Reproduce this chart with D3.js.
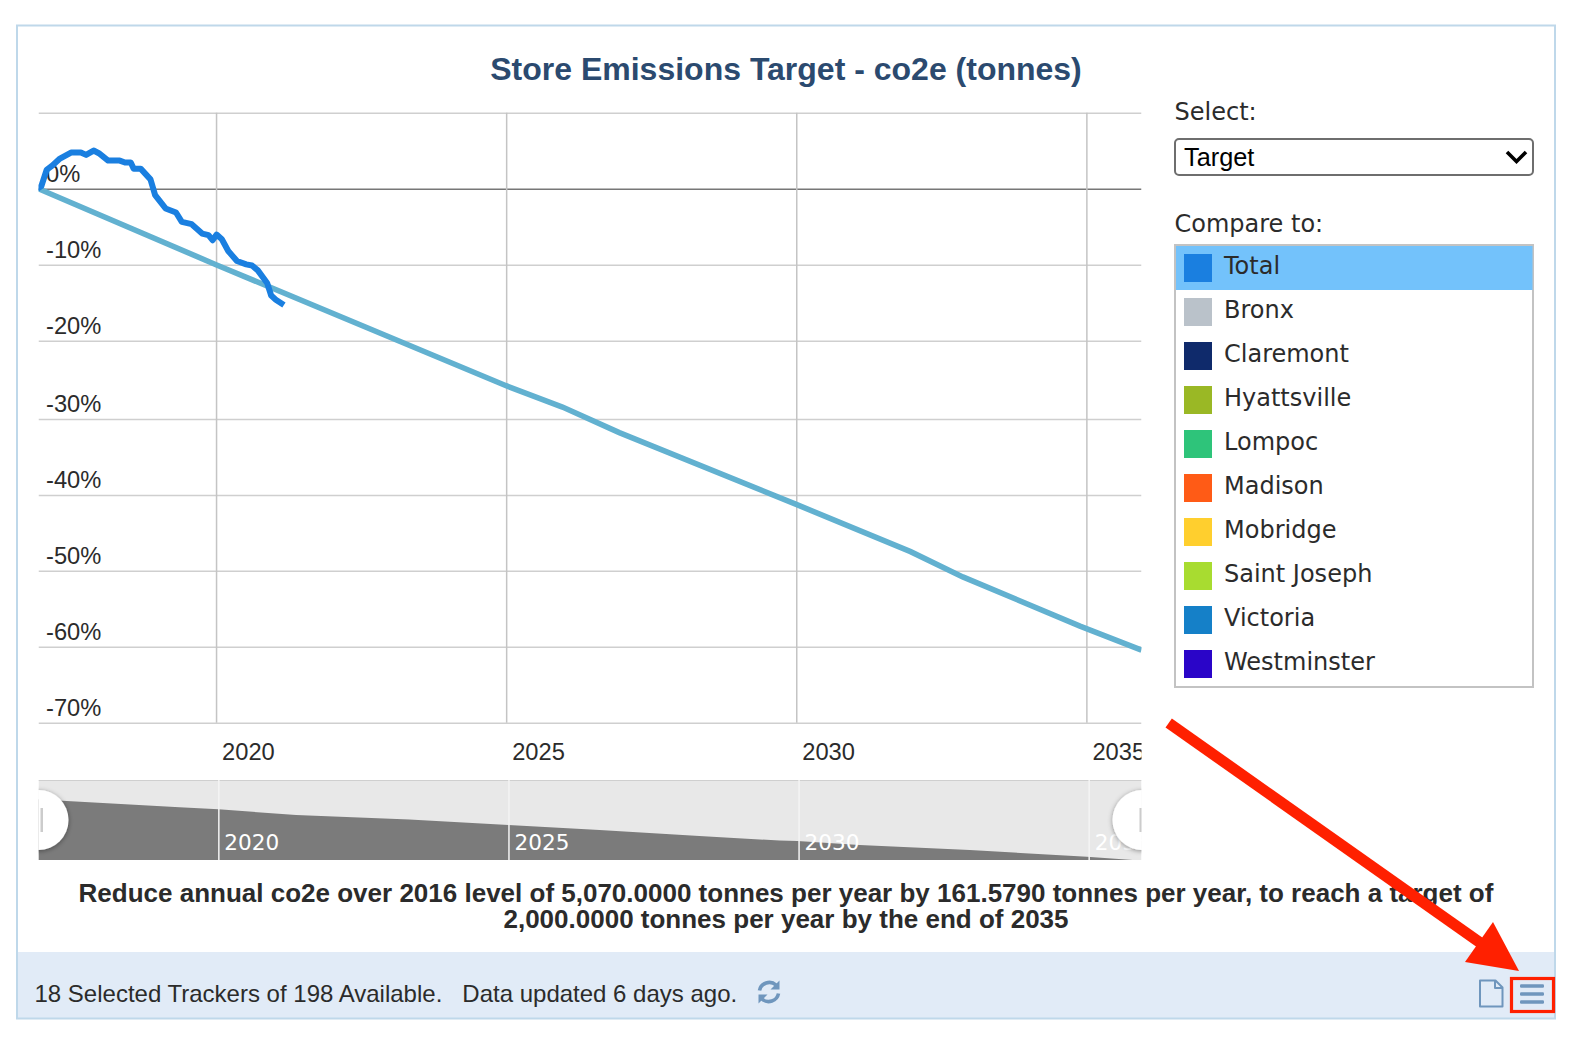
<!DOCTYPE html>
<html>
<head>
<meta charset="utf-8">
<style>
  html, body { margin: 0; padding: 0; background: #fff; overflow: hidden; }
  svg { display: block; }
  text { fill: #2b2b2b; }
  .sans { font-family: "Liberation Sans", Arial, sans-serif; }
  .dejavu { font-family: "DejaVu Sans", Verdana, sans-serif; }
</style>
<script src="https://cdn.jsdelivr.net/npm/d3@7"></script>
</head>
<body>
<svg id="page" width="1578" height="1052"></svg>
<script>
// values: year, % change from baseline
var actualYears = [2016.92,2016.99,2017.08,2017.17,2017.31,2017.50,2017.67,2017.76,2017.89,2017.98,2018.14,2018.34,2018.43,2018.53,2018.58,2018.70,2018.87,2018.95,2019.13,2019.31,2019.41,2019.58,2019.76,2019.87,2019.94,2020.01,2020.10,2020.21,2020.36,2020.52,2020.62,2020.72,2020.88,2020.95,2021.03,2021.17];
var actualValues = [0,0.35,2.47,3.0,3.96,4.76,4.76,4.45,5.02,4.67,3.7,3.7,3.44,3.44,2.64,2.64,1.23,-0.84,-2.6,-3.13,-4.36,-4.67,-5.9,-6.12,-6.78,-6.04,-6.65,-8.19,-9.52,-9.96,-10.1,-10.75,-12.4,-14.05,-14.6,-15.3];

var targetYears = [2016.94,2020,2025,2025.97,2026.95,2030,2031.97,2032.87,2034.89,2035.95];
var targetValues = [0,-10,-25.75,-28.47,-31.8,-41.25,-47.47,-50.8,-57.27,-60.43];

// the overview strip has its own slightly bumpy outline
var overviewYears = [2016.9,2017.31,2019.33,2020,2021.34,2023.29,2025,2026.57,2028.29,2029.67,2029.98,2031.05,2032.95,2034.97,2035.76,2035.95];
var overviewValues = [0,-1.4,-7.8,-9.8,-15.4,-19.8,-25.2,-30.1,-36,-40.4,-40.9,-44.8,-49.7,-56.3,-59.5,-60.5];

var yearTicks = [2020,2025,2030,2035];
var percentTicks = [10,0,-10,-20,-30,-40,-50,-60,-70];

var compareNames = ["Total","Bronx","Claremont","Hyattsville","Lompoc","Madison","Mobridge","Saint Joseph","Victoria","Westminster"];
var compareColors = ["#1a7fe0","#bac2ca","#0f2a6b","#9ab825","#2ec47a","#ff5b16","#ffcf2e","#a8dc30","#1580c8","#2a05c8"];

var titleText = "Store Emissions Target - co2e (tonnes)";
var noteLines = ["Reduce annual co2e over 2016 level of 5,070.0000 tonnes per year by 161.5790 tonnes per year, to reach a target of",
                 "2,000.0000 tonnes per year by the end of 2035"];
var footerText = "18 Selected Trackers of 198 Available.   Data updated 6 days ago.";

var svg = d3.select("#page");
var defs = svg.append("defs");

var plot = {left: 38.5, right: 1141.5, top: 112.7, bottom: 722.7};
var nav = {left: 38.5, right: 1141.5, top: 780, bottom: 860};

var x = d3.scaleLinear().domain([2016.94, 2035.95]).range([plot.left, plot.right]);
// the source chart's gridlines are not evenly spaced: the -20/-30 gap is wider
var y = d3.scaleLinear().domain([10, -20, -30, -70]).range([plot.top, 340.7, 419, plot.bottom]);
var navX = d3.scaleLinear().domain([2016.94, 2035.95]).range([nav.left + 2.3, nav.right + 2.3]);
var navY = d3.scaleLinear().domain([0, -60.5]).range([799.3, 861]);

// frame and footer band
svg.append("rect").attr("x", 17).attr("y", 25.5).attr("width", 1538).attr("height", 993)
  .attr("fill", "#fff");
svg.append("rect").attr("x", 17).attr("y", 952).attr("width", 1538).attr("height", 66.5)
  .attr("fill", "#e1ebf7");
svg.append("rect").attr("x", 17).attr("y", 25.5).attr("width", 1538).attr("height", 993)
  .attr("fill", "none").attr("stroke", "#bfd8ea").attr("stroke-width", 2);

svg.append("text").attr("class", "sans")
  .attr("x", 786).attr("y", 80)
  .attr("text-anchor", "middle")
  .style("font-size", "32px").style("font-weight", "bold").style("fill", "#2b4a6f")
  .text(titleText);

defs.append("clipPath").attr("id", "plotClip").append("rect")
  .attr("x", plot.left).attr("y", 90).attr("width", plot.right - plot.left).attr("height", 690);
defs.append("clipPath").attr("id", "navClip").append("rect")
  .attr("x", nav.left).attr("y", nav.top).attr("width", nav.right - nav.left).attr("height", nav.bottom - nav.top);

var chart = svg.append("g").attr("clip-path", "url(#plotClip)");

// horizontal grid + percent labels
var yAxis = chart.append("g")
  .attr("transform", "translate(" + plot.left + ",0)")
  .call(d3.axisRight(y).tickValues(percentTicks).tickSize(plot.right - plot.left).tickFormat(function(d){ return d + "%"; }));
yAxis.select(".domain").remove();
yAxis.selectAll("line")
  .attr("stroke", function(d){ return d === 0 ? "#777777" : "#cfcfcf"; })
  .attr("stroke-width", 1.5);
yAxis.selectAll("text")
  .attr("class", "sans")
  .attr("x", 7.5).attr("dy", -7.5)
  .style("font-size", "23.7px")
  .style("fill", "#2b2b2b")
  .filter(function(d){ return d === 10; }).remove();

// vertical grid + year labels
var xAxis = chart.append("g")
  .attr("transform", "translate(0," + plot.bottom + ")")
  .call(d3.axisBottom(x).tickValues(yearTicks).tickSize(plot.top - plot.bottom).tickFormat(d3.format("d")));
xAxis.select(".domain").remove();
xAxis.selectAll("line").attr("stroke", "#c4c4c4").attr("stroke-width", 1.5);
xAxis.selectAll("text")
  .attr("class", "sans")
  .attr("x", 5.5).attr("y", 37.3).attr("dy", 0)
  .attr("text-anchor", "start")
  .style("font-size", "23.7px")
  .style("fill", "#2b2b2b");

var line = d3.line()
  .x(function(d){ return x(d[0]); })
  .y(function(d){ return y(d[1]); });

chart.append("path")
  .datum(d3.zip(targetYears, targetValues))
  .attr("d", line).attr("fill", "none")
  .attr("stroke", "#62b1d0").attr("stroke-width", 5.6);

chart.append("path")
  .datum(d3.zip(actualYears, actualValues))
  .attr("d", line).attr("fill", "none")
  .attr("stroke", "#1a7fe0").attr("stroke-width", 6)
  .attr("stroke-linejoin", "round");

// navigator strip
var strip = svg.append("g").attr("clip-path", "url(#navClip)");
strip.append("rect")
  .attr("x", nav.left).attr("y", nav.top).attr("width", nav.right - nav.left).attr("height", nav.bottom - nav.top)
  .attr("fill", "#e8e8e8");
strip.append("line")
  .attr("x1", nav.left).attr("x2", nav.right).attr("y1", nav.top + 0.5).attr("y2", nav.top + 0.5)
  .attr("stroke", "#cfcfcf");

var area = d3.area()
  .x(function(d){ return navX(d[0]); })
  .y0(nav.bottom)
  .y1(function(d){ return navY(d[1]); });

strip.append("path")
  .datum(d3.zip(overviewYears, overviewValues))
  .attr("d", area).attr("fill", "#7b7b7b");

var navAxis = strip.append("g")
  .attr("transform", "translate(0," + nav.bottom + ")")
  .call(d3.axisBottom(navX).tickValues(yearTicks).tickSize(nav.top - nav.bottom).tickFormat(d3.format("d")));
navAxis.select(".domain").remove();
navAxis.selectAll("line").attr("stroke", "#f4f4f4").attr("stroke-width", 1.5);
navAxis.selectAll("text")
  .attr("class", "dejavu")
  .attr("x", 5.5).attr("y", -10).attr("dy", 0)
  .attr("text-anchor", "start")
  .style("font-size", "21.6px")
  .style("fill", "#fff");

// round slider handles
var shadow = defs.append("filter").attr("id", "handleShadow")
  .attr("x", "-30%").attr("y", "-30%").attr("width", "160%").attr("height", "160%");
shadow.append("feDropShadow")
  .attr("dx", 0).attr("dy", 1).attr("stdDeviation", 2.5)
  .attr("flood-color", "#000").attr("flood-opacity", 0.4);

[nav.left, nav.right + 1].forEach(function(cx, i){
  strip.append("circle")
    .attr("cx", cx).attr("cy", 820).attr("r", 30)
    .attr("fill", "#fff").attr("filter", "url(#handleShadow)");
  strip.append("rect")
    .attr("x", i === 0 ? cx + 2 : cx - 3).attr("y", 808).attr("width", 2.5).attr("height", 24)
    .attr("fill", "#cccccc");
});

// side panel
var panel = svg.append("g");
panel.append("text").attr("class", "dejavu")
  .attr("x", 1174.5).attr("y", 120).style("font-size", "24px").text("Select:");
panel.append("rect")
  .attr("x", 1175).attr("y", 139).attr("width", 358).attr("height", 36).attr("rx", 4)
  .attr("fill", "#fff").attr("stroke", "#6e6e6e").attr("stroke-width", 2);
panel.append("text").attr("class", "sans")
  .attr("x", 1184).attr("y", 166).style("font-size", "25.3px").style("fill", "#000").text("Target");
panel.append("path")
  .attr("d", "M1507 152l9.5 9.5l9.5 -9.5")
  .attr("fill", "none").attr("stroke", "#000").attr("stroke-width", 3.6);

panel.append("text").attr("class", "dejavu")
  .attr("x", 1174.5).attr("y", 232).style("font-size", "24px").text("Compare to:");
panel.append("rect")
  .attr("x", 1175).attr("y", 245).attr("width", 358).attr("height", 442)
  .attr("fill", "#fff").attr("stroke", "#c3c3c3").attr("stroke-width", 2);

var rowY = d3.scaleBand().domain(compareNames).range([246, 686]);

var rows = panel.selectAll(".row")
  .data(compareNames)
  .enter().append("g")
  .attr("class", "row")
  .attr("transform", function(d){ return "translate(1176," + rowY(d) + ")"; });

rows.filter(function(d,i){ return i === 0; }).append("rect")
  .attr("width", 356.5).attr("height", rowY.bandwidth())
  .attr("fill", "#73c2fb");
rows.append("rect")
  .attr("x", 8).attr("y", 8).attr("width", 28).attr("height", 28)
  .attr("fill", function(d,i){ return compareColors[i]; });
rows.append("text").attr("class", "dejavu")
  .attr("x", 48).attr("y", 28)
  .style("font-size", "24px")
  .text(function(d){ return d; });

// note under the chart
svg.selectAll(".note")
  .data(noteLines)
  .enter().append("text")
  .attr("class", "note sans")
  .attr("x", 786)
  .attr("y", function(d,i){ return 902 + i * 25.5; })
  .attr("text-anchor", "middle")
  .style("font-size", "26px").style("font-weight", "bold")
  .text(function(d){ return d; });

// footer
svg.append("text").attr("class", "sans")
  .attr("x", 34.5).attr("y", 1002)
  .attr("xml:space", "preserve")
  .style("white-space", "pre")
  .style("font-size", "24px")
  .text(footerText);

var iconColor = "#6f96bd";
var refresh = svg.append("g").attr("transform", "translate(769,992)")
  .attr("fill", "none").attr("stroke", iconColor).attr("stroke-width", 3.6);
refresh.append("path").attr("d", "M-9.5 -1.5A10 10 0 0 1 7 -7");
refresh.append("path").attr("d", "M9.5 1.5A10 10 0 0 1 -7 7");
refresh.append("path").attr("d", "M10.5 -11.5v9h-9z").attr("fill", iconColor).attr("stroke", "none");
refresh.append("path").attr("d", "M-10.5 11.5v-9h9z").attr("fill", iconColor).attr("stroke", "none");

svg.append("path")
  .attr("d", "M1480 980.5h15.5l7 7v19h-22.5z M1495 980.5v7.5h7.5")
  .attr("fill", "none").attr("stroke", iconColor).attr("stroke-width", 2)
  .attr("stroke-linejoin", "round");

[986, 994, 1002].forEach(function(by){
  svg.append("rect")
    .attr("x", 1520).attr("y", by - 1.7).attr("width", 24).attr("height", 3.4).attr("rx", 1.2)
    .attr("fill", iconColor);
});

// red annotation arrow and box
var red = "#ff2000";
svg.append("line")
  .attr("x1", 1168.7).attr("y1", 723).attr("x2", 1482).attr("y2", 944)
  .attr("stroke", red).attr("stroke-width", 11);
svg.append("path")
  .attr("d", "M1519 971L1493 922L1465 962Z")
  .attr("fill", red);
svg.append("rect")
  .attr("x", 1511.5).attr("y", 978.5).attr("width", 42).attr("height", 33)
  .attr("fill", "none").attr("stroke", red).attr("stroke-width", 3.2);
</script>
</body>
</html>
